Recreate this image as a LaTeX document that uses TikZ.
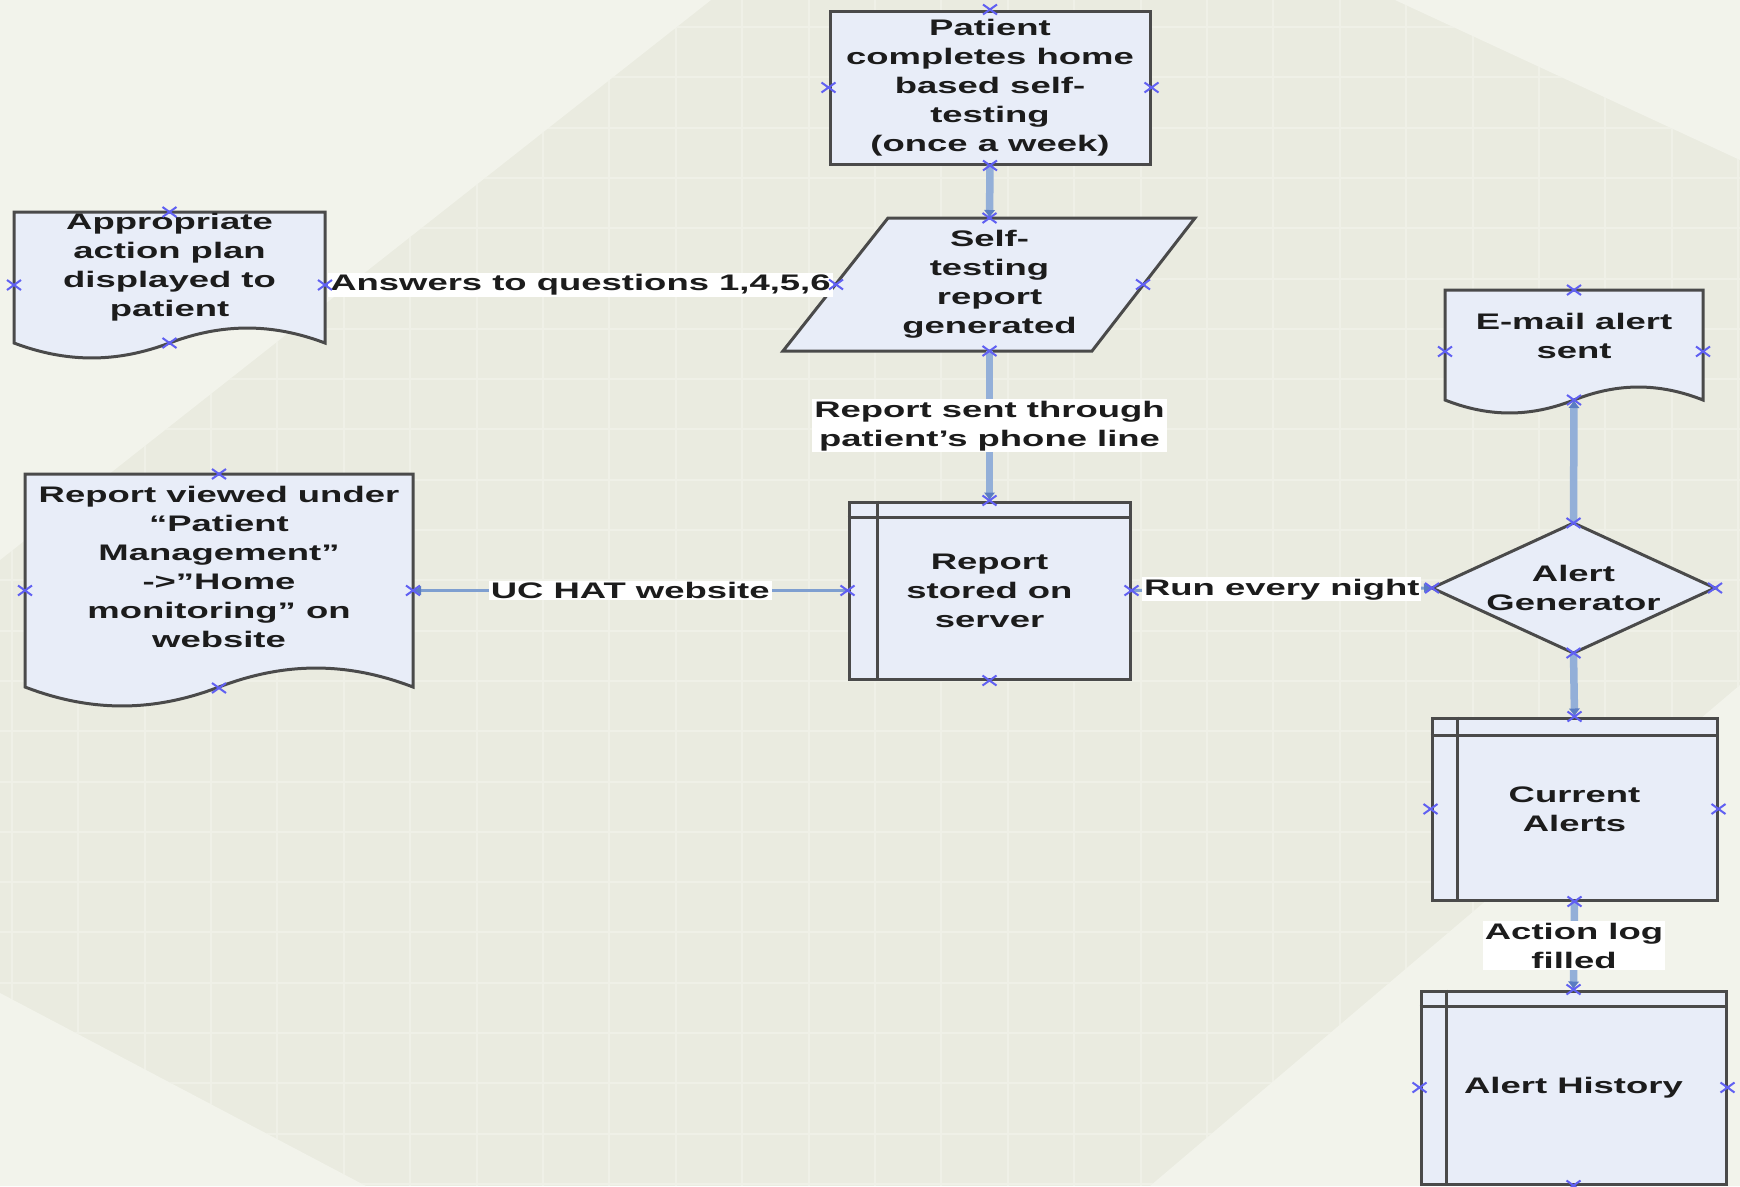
\documentclass[tikz,border=0pt]{standalone}
\usepackage{fontspec}
\newfontfamily\diagfont{Liberation Sans}[FakeStretch=1.62]
\usetikzlibrary{arrows.meta,calc}
\definecolor{bgmid}{HTML}{EAEBE0}
\definecolor{bglight}{HTML}{F2F3EB}
\definecolor{gridc}{HTML}{EFF0E7}
\definecolor{boxfill}{HTML}{E8EDF8}
\definecolor{boxline}{HTML}{4A4A4A}
\definecolor{conn}{HTML}{93AFD8}
\definecolor{connthin}{HTML}{7F9FD0}
\definecolor{tipc}{HTML}{5A7CC2}
\definecolor{mkc}{HTML}{6060F2}
\definecolor{txtc}{HTML}{1C1C1C}
\tikzset{
  txt/.style={font=\diagfont\bfseries\fontsize{22.5}{29}\selectfont, text=txtc, align=center, inner sep=0pt},
  frame/.style={draw=none, inner sep=0pt, outer sep=0pt},
  boxshape/.style={draw=boxline, fill=boxfill, line width=3pt},
  innerline/.style={draw=boxline, line width=3pt},
  lbl/.style={txt, fill=white, inner xsep=2pt, inner ysep=1.5pt},
  vconn/.style={draw=conn, line width=7.5pt, -{Latex[length=8pt,width=12pt,color=tipc]}},
  hconn/.style={draw=connthin, line width=3pt, -{Latex[length=8pt,width=10pt,color=tipc]}},
  mk/.style={draw=mkc, line width=2pt},
  gridline/.style={draw=gridc, line width=2pt}
}
\newcommand\docshape[5]{%
  \draw[boxshape] (#1,#3) -- (#1,#4)
    .. controls ({#1+0.17*(#2-#1)},{#4+1.33*#5}) and ({#1+0.33*(#2-#1)},{#4+1.33*#5}) .. ({(#1+#2)/2},#4)
    .. controls ({#1+0.67*(#2-#1)},{#4-1.33*#5}) and ({#1+0.83*(#2-#1)},{#4-1.33*#5}) .. (#2,#4)
    -- (#2,#3) -- cycle;}
\newcommand\mkat[1]{\draw[mk] (#1) +(-7pt,-5pt) -- +(7pt,5pt) +(-7pt,5pt) -- +(7pt,-5pt);}
\begin{document}
\begin{tikzpicture}[x=1pt,y=-1pt]
\useasboundingbox (0,0) rectangle (1740,1186);
% background
\fill[bgmid] (0,0) rectangle (1740,1186);
\begin{scope}
  \clip (711,0) -- (1395,0) -- (1740,160) -- (1740,685) -- (1150,1186) -- (366,1186) -- (0,993) -- (0,560) -- cycle;
  \foreach \k in {0,...,26} \draw[gridline] ({11.8+66.4*\k},0) -- ({11.8+66.4*\k},1186);
  \foreach \k in {0,...,23} \draw[gridline] (0,{27+50.3*\k}) -- (1740,{27+50.3*\k});
\end{scope}
\fill[bglight] (0,0) -- (711,0) -- (0,560) -- cycle;
\fill[bglight] (1395,0) -- (1740,0) -- (1740,160) -- cycle;
\fill[bglight] (1740,685) -- (1740,1186) -- (1150,1186) -- cycle;
\fill[bglight] (0,993) -- (366,1186) -- (0,1186) -- cycle;

% Patient box
\node[txt, boxshape, minimum width=320pt, minimum height=153pt] (pat) at (990,87.5)
  {Patient\\completes home\\based self-\\testing\\(once a week)};

% Self-testing parallelogram
\draw[boxshape] (888,218) -- (1195,218) -- (1092,351) -- (783,351) -- cycle;
\node[txt, frame, minimum width=307pt, minimum height=133pt] (self) at (989.5,284.5)
  {Self-\\testing\\report\\generated};

% Appropriate action plan document
\docshape{14}{325}{212}{343}{15}
\node[frame, minimum width=311pt, minimum height=146pt] (plan) at (169.5,285) {};
\node[txt] (plant) at (169.5,267) {Appropriate\\action plan\\displayed to\\patient};

% Report viewed document
\docshape{25}{413}{474}{687}{19}
\node[frame, minimum width=388pt, minimum height=233pt] (viewed) at (219,590.5) {};
\node[txt] (viewedt) at (219,567)
  {Report viewed under\\“Patient\\Management”\\->”Home\\monitoring” on\\website};

% Report stored on server
\node[txt, boxshape, minimum width=281pt, minimum height=177pt] (stored) at (989.5,590.5)
  {Report\\stored on\\server};
\draw[innerline] ([xshift=30pt]stored.north west) -- ([xshift=30pt]stored.south west);
\draw[innerline] ([yshift=-17pt]stored.north west) -- ([yshift=-17pt]stored.north east);

% E-mail alert document
\docshape{1445}{1703}{290}{400}{13}
\node[frame, minimum width=258pt, minimum height=123pt] (email) at (1574,351.5) {};
\node[txt] (emailt) at (1574,336) {E-mail alert\\sent};

% Alert generator diamond
\draw[boxshape] (1573.5,523) -- (1715,588) -- (1573.5,653) -- (1432,588) -- cycle;
\node[txt, frame, minimum width=283pt, minimum height=130pt] (gen) at (1573.5,588)
  {Alert\\Generator};

% Current alerts
\node[txt, boxshape, minimum width=285pt, minimum height=182pt] (cur) at (1574.5,809)
  {Current\\Alerts};
\draw[innerline] ([xshift=27pt]cur.north west) -- ([xshift=27pt]cur.south west);
\draw[innerline] ([yshift=-19pt]cur.north west) -- ([yshift=-19pt]cur.north east);

% Alert history
\node[txt, boxshape, minimum width=305pt, minimum height=193pt] (hist) at (1573.5,1087.5)
  {Alert History};
\draw[innerline] ([xshift=27pt]hist.north west) -- ([xshift=27pt]hist.south west);
\draw[innerline] ([yshift=-17pt]hist.north west) -- ([yshift=-17pt]hist.north east);

% connectors
\draw[vconn] (pat.south) -- (self.north);
\draw[hconn] (self.west) -- (plan.east) node[lbl, midway] (lq) {Answers to questions 1,4,5,6};
\draw[vconn] (self.south) -- (stored.north) node[lbl, midway] (lr) {Report sent through\\patient’s phone line};
\draw[hconn] (stored.west) -- (viewed.east) node[lbl, midway] (lu) {UC HAT website};
\draw[hconn] (stored.east) -- (gen.west) node[lbl, midway] (ln) {Run every night};
\draw[vconn] (gen.north) -- ([yshift=13pt]email.south);
\draw[vconn] (gen.south) -- (cur.north);
\draw[vconn] (cur.south) -- (hist.north) node[lbl, midway] (la) {Action log\\filled};

% connection point markers
\foreach \n in {pat,self,stored,gen,cur,hist}
  \foreach \a in {north,south,east,west} {\mkat{\n.\a}}
\foreach \n/\s in {plan/15,viewed/19,email/13} {
  \mkat{\n.north} \mkat{\n.east} \mkat{\n.west} \mkat{[yshift=\s pt]\n.south}
}
\end{tikzpicture}
\end{document}
